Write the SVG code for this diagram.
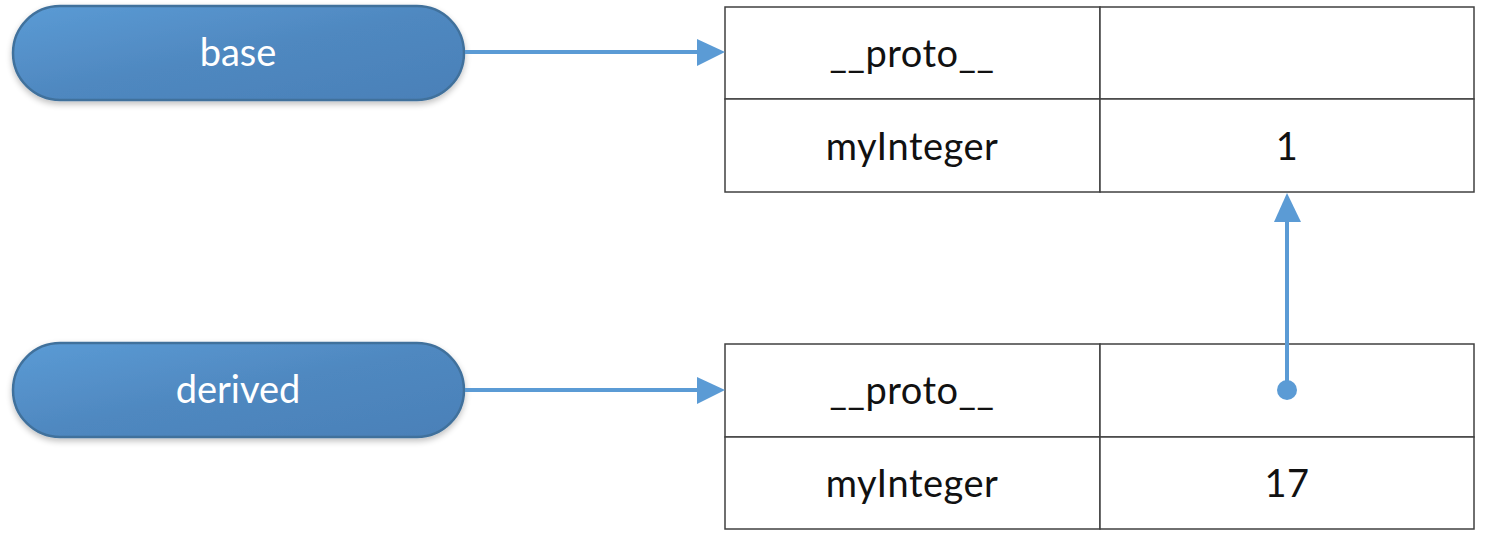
<svg xmlns="http://www.w3.org/2000/svg" width="1491" height="553" viewBox="0 0 1491 553">
<defs>
<linearGradient id="pill" x1="0" y1="0" x2="1" y2="1">
<stop offset="0" stop-color="#5b9bd5"/>
<stop offset="0.5" stop-color="#4f88c0"/>
<stop offset="1" stop-color="#4a80b8"/>
</linearGradient>
<filter id="sh" x="-10%" y="-20%" width="120%" height="150%">
<feGaussianBlur in="SourceAlpha" stdDeviation="3"/>
<feOffset dy="3"/>
<feComponentTransfer><feFuncA type="linear" slope="0.25"/></feComponentTransfer>
<feMerge><feMergeNode/><feMergeNode in="SourceGraphic"/></feMerge>
</filter>
</defs>
<style>
.pill{fill:url(#pill);stroke:#41719c;stroke-width:2.5;}
.pt{font-family:Lato,"Liberation Sans",sans-serif;font-size:38px;fill:#ffffff;text-anchor:middle;}
.cell{fill:#ffffff;stroke:#404040;stroke-width:1.5;}
.ct{font-family:Lato,"Liberation Sans",sans-serif;font-size:38px;fill:#111111;text-anchor:middle;letter-spacing:0.5px;}
.conn{stroke:#5b9bd5;stroke-width:4;fill:none;}
.head{fill:#5b9bd5;}
</style>
<g id="base">
<rect class="pill" x="13" y="6" width="451" height="94" rx="47" filter="url(#sh)"/>
<text class="pt" x="238" y="66">base</text>
</g>
<g id="derived">
<rect class="pill" x="13" y="343" width="451" height="94" rx="47" filter="url(#sh)"/>
<text class="pt" x="238" y="403">derived</text>
</g>
<g id="baseObj">
<rect class="cell" x="725" y="7" width="375" height="92"/>
<rect class="cell" x="1100" y="7" width="374" height="92"/>
<rect class="cell" x="725" y="99" width="375" height="93"/>
<rect class="cell" x="1100" y="99" width="374" height="93"/>
<text class="ct" x="912" y="67">__proto__</text>
<text class="ct" x="912" y="160">myInteger</text>
<text class="ct" x="1287" y="160">1</text>
</g>
<g id="derivedObj">
<rect class="cell" x="725" y="344" width="375" height="93"/>
<rect class="cell" x="1100" y="344" width="374" height="93"/>
<rect class="cell" x="725" y="437" width="375" height="92"/>
<rect class="cell" x="1100" y="437" width="374" height="92"/>
<text class="ct" x="912" y="404">__proto__</text>
<text class="ct" x="912" y="497">myInteger</text>
<text class="ct" x="1287" y="497">17</text>
</g>
<g id="connectors">
<line class="conn" x1="465" y1="52" x2="700" y2="52"/>
<path class="head" d="M697,39 L725,52 L697,66 Z"/>
<line class="conn" x1="465" y1="390" x2="700" y2="390"/>
<path class="head" d="M697,377 L725,390 L697,404 Z"/>
<line class="conn" x1="1287" y1="390" x2="1287" y2="220"/>
<path class="head" d="M1274,222 L1287,193 L1301,222 Z"/>
<circle class="head" cx="1287" cy="390" r="10"/>
</g>
</svg>
